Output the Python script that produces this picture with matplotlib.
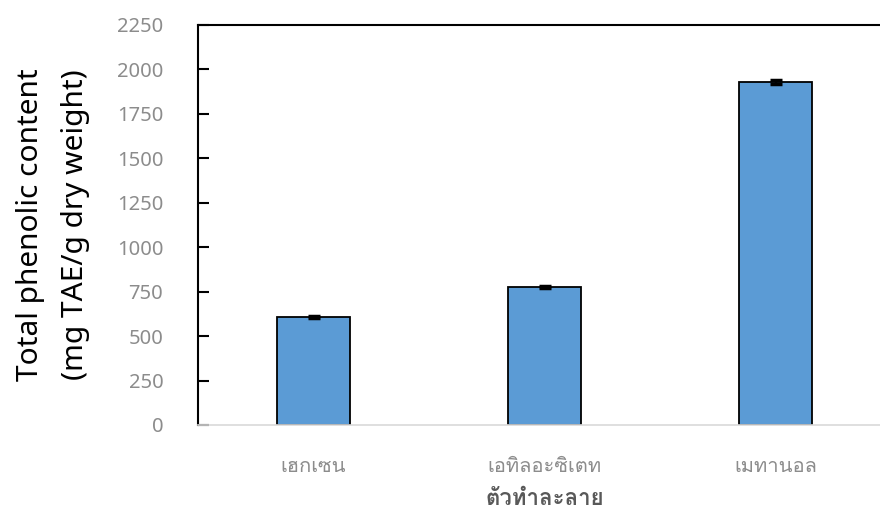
import numpy as np
import matplotlib
matplotlib.use("Agg")
import matplotlib.pyplot as plt
from matplotlib import font_manager
from matplotlib.ft2font import FT2Font

solvents = ["เฮกเซน", "เอทิลอะซิเตท", "เมทานอล"]
tpc = [607, 775, 1929]
tpc_err = [5, 5, 10]
y_ticks = [0, 250, 500, 750, 1000, 1250, 1500, 1750, 2000, 2250]
x_title = "ตัวทำละลาย"
y_title = "Total phenolic content\n(mg TAE/g dry weight)"

# look for any installed font that has Thai glyphs
thai_font = None
for f in font_manager.fontManager.ttflist:
    try:
        if 0x0E40 in FT2Font(f.fname).get_charmap():
            thai_font = f.name
            break
    except Exception:
        pass

fams = ["Noto Sans"]
if thai_font:
    fams.append(thai_font)
fams.append("DejaVu Sans")
plt.rcParams["font.family"] = fams

fig = plt.figure(figsize=(8.8, 5.15), dpi=100)
ax = fig.add_axes([198 / 880, 1 - 425 / 515, (891.5 - 198) / 880, 400 / 515])

x = np.arange(len(solvents))
ax.bar(x, tpc, width=0.316, color="#5B9BD5", edgecolor="black", linewidth=1.3, zorder=2)
ax.errorbar(x, tpc, yerr=tpc_err, fmt="none", ecolor="black", elinewidth=1.5,
            capsize=4, capthick=2.5, zorder=3)

ax.set_xlim(-0.5, 2.5)
ax.set_ylim(0, 2250)
ax.set_yticks(y_ticks)
ax.set_xticks(x)
ax.set_xticklabels(solvents)

ax.spines["left"].set_color("black")
ax.spines["left"].set_linewidth(1.5)
ax.spines["top"].set_color("black")
ax.spines["top"].set_linewidth(1.5)
ax.spines["bottom"].set_color("#D9D9D9")
ax.spines["bottom"].set_linewidth(1.2)
ax.spines["right"].set_visible(False)

ax.tick_params(axis="y", direction="in", length=8, width=1.5, pad=25,
               labelsize=14.5, labelcolor="#8C8C8C")
ax.tick_params(axis="x", length=0, pad=23, labelsize=14.5, labelcolor="#8C8C8C")

ax.set_xlabel(x_title, fontsize=16, fontweight="bold", color="#595959", labelpad=9)
ax.set_ylabel(y_title, fontsize=21.5, color="black", labelpad=19, linespacing=1.75)

plt.savefig("out.png", dpi=100)
